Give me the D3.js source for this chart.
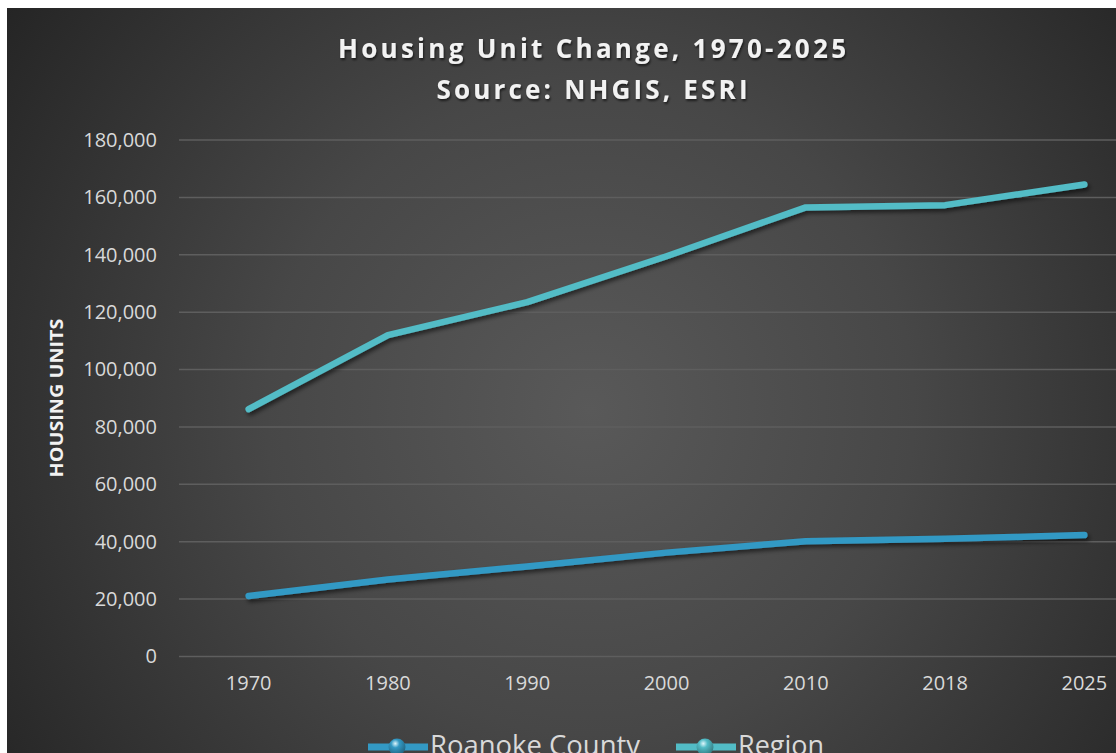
<!DOCTYPE html>
<html>
<head>
<meta charset="utf-8">
<script src="https://cdnjs.cloudflare.com/ajax/libs/d3/7.8.5/d3.min.js"></script>
<style>
  html, body { margin: 0; padding: 0; background: #ffffff; }
  svg { display: block; }
</style>
</head>
<body>
<svg id="chart" width="1116" height="753"></svg>
<script>
// ---- data ----
const years = ["1970", "1980", "1990", "2000", "2010", "2018", "2025"];
const roanokeCounty = [21100, 26800, 31400, 36200, 40200, 41000, 42300];
const region = [86200, 112000, 123500, 139500, 156500, 157300, 164500];
const yTicks = [0, 20000, 40000, 60000, 80000, 100000, 120000, 140000, 160000, 180000];
const seriesNames = ["Roanoke County", "Region"];
const seriesColors = ["#3399c4", "#52bcc6"];
const titleLines = ["Housing Unit Change, 1970-2025", "Source: NHGIS, ESRI"];
const yTitle = "HOUSING UNITS";

const svg = d3.select("#chart");
const W = 1116, H = 753;

const defs = svg.append("defs");
const bg = defs.append("radialGradient").attr("id", "bg")
  .attr("gradientUnits", "userSpaceOnUse")
  .attr("cx", 590).attr("cy", 410).attr("r", 720);
bg.append("stop").attr("offset", "0%").attr("stop-color", "#595959");
bg.append("stop").attr("offset", "45%").attr("stop-color", "#474747");
bg.append("stop").attr("offset", "100%").attr("stop-color", "#242424");

const shadow = defs.append("filter").attr("id", "shadow")
  .attr("x", "-10%").attr("y", "-10%").attr("width", "120%").attr("height", "130%");
shadow.append("feDropShadow").attr("dx", 2).attr("dy", 3).attr("stdDeviation", 2)
  .attr("flood-color", "#000").attr("flood-opacity", 0.55);

const tshadow = defs.append("filter").attr("id", "tshadow")
  .attr("x", "-5%").attr("y", "-20%").attr("width", "110%").attr("height", "150%");
tshadow.append("feDropShadow").attr("dx", 1).attr("dy", 2).attr("stdDeviation", 1.2)
  .attr("flood-color", "#000").attr("flood-opacity", 0.6);

seriesColors.forEach((c, i) => {
  const g = defs.append("radialGradient").attr("id", "sph" + i)
    .attr("cx", "40%").attr("cy", "30%").attr("r", "70%");
  g.append("stop").attr("offset", "0%").attr("stop-color", "#dff6fb");
  g.append("stop").attr("offset", "35%").attr("stop-color", c);
  g.append("stop").attr("offset", "100%").attr("stop-color", d3.color(c).darker(1.2));
});

// background
svg.append("rect").attr("x", 7).attr("y", 8).attr("width", W - 7).attr("height", H - 8)
  .attr("fill", "url(#bg)");

// scales
const x = d3.scaleBand().domain(years).range([179, 1154]);
const y = d3.scaleLinear().domain([0, 180000]).range([656.5, 140]);

// gridlines
svg.append("g").selectAll("line").data(yTicks).join("line")
  .attr("x1", 179).attr("x2", W)
  .attr("y1", d => y(d)).attr("y2", d => y(d))
  .attr("stroke", "#5e5e5e").attr("stroke-width", 1.5);

// y axis labels
const yAxis = d3.axisLeft(y).tickValues(yTicks).tickFormat(d3.format(",")).tickSize(0).tickPadding(0);
const gy = svg.append("g").attr("transform", "translate(157,0)").call(yAxis);
gy.select(".domain").remove();
gy.selectAll("text").attr("fill", "#d9d9d9")
  .style("font-family", "'Open Sans', sans-serif").style("font-size", "20px");

// x axis labels
const xAxis = d3.axisBottom(x).tickSize(0).tickPadding(0);
const gx = svg.append("g").attr("transform", "translate(0,676)").call(xAxis);
gx.select(".domain").remove();
gx.selectAll("text").attr("fill", "#d9d9d9")
  .style("font-family", "'Open Sans', sans-serif").style("font-size", "20px");

// lines
const line = d3.line().x((d, i) => x(years[i]) + x.bandwidth() / 2).y(d => y(d));
[roanokeCounty, region].forEach((s, i) => {
  svg.append("path").datum(s).attr("d", line)
    .attr("fill", "none").attr("stroke", seriesColors[i]).attr("stroke-width", 6.5)
    .attr("stroke-linecap", "round").attr("stroke-linejoin", "round")
    .attr("filter", "url(#shadow)");
});

// title
titleLines.forEach((t, i) => {
  svg.append("text").text(t)
    .attr("x", 592).attr("y", 58 + i * 41)
    .attr("text-anchor", "middle")
    .attr("textLength", i === 0 ? 508 : 311).attr("lengthAdjust", "spacing")
    .attr("fill", "#f2f2f2").attr("filter", "url(#tshadow)")
    .style("font-family", "'Open Sans', sans-serif").style("font-weight", "bold")
    .style("font-size", "26px");
});

// y title
svg.append("text").text(yTitle)
  .attr("transform", "translate(63,398) rotate(-90)")
  .attr("text-anchor", "middle")
  .attr("textLength", 159).attr("lengthAdjust", "spacingAndGlyphs")
  .attr("fill", "#f2f2f2")
  .style("font-family", "'Open Sans', sans-serif").style("font-weight", "bold")
  .style("font-size", "17px");

// legend
const legendX = [368, 676];
const legendTextW = [210, 86];
seriesNames.forEach((n, i) => {
  const g = svg.append("g");
  g.append("line").attr("x1", legendX[i]).attr("x2", legendX[i] + 60)
    .attr("y1", 747).attr("y2", 747)
    .attr("stroke", seriesColors[i]).attr("stroke-width", 7);
  g.append("circle").attr("cx", legendX[i] + 29).attr("cy", 747).attr("r", 8.5)
    .attr("fill", "url(#sph" + i + ")");
  g.append("text").text(n).attr("x", legendX[i] + 62).attr("y", 755)
    .attr("textLength", legendTextW[i]).attr("lengthAdjust", "spacingAndGlyphs")
    .attr("fill", "#d9d9d9")
    .style("font-family", "'Open Sans', sans-serif").style("font-size", "27px");
});
</script>
</body>
</html>
